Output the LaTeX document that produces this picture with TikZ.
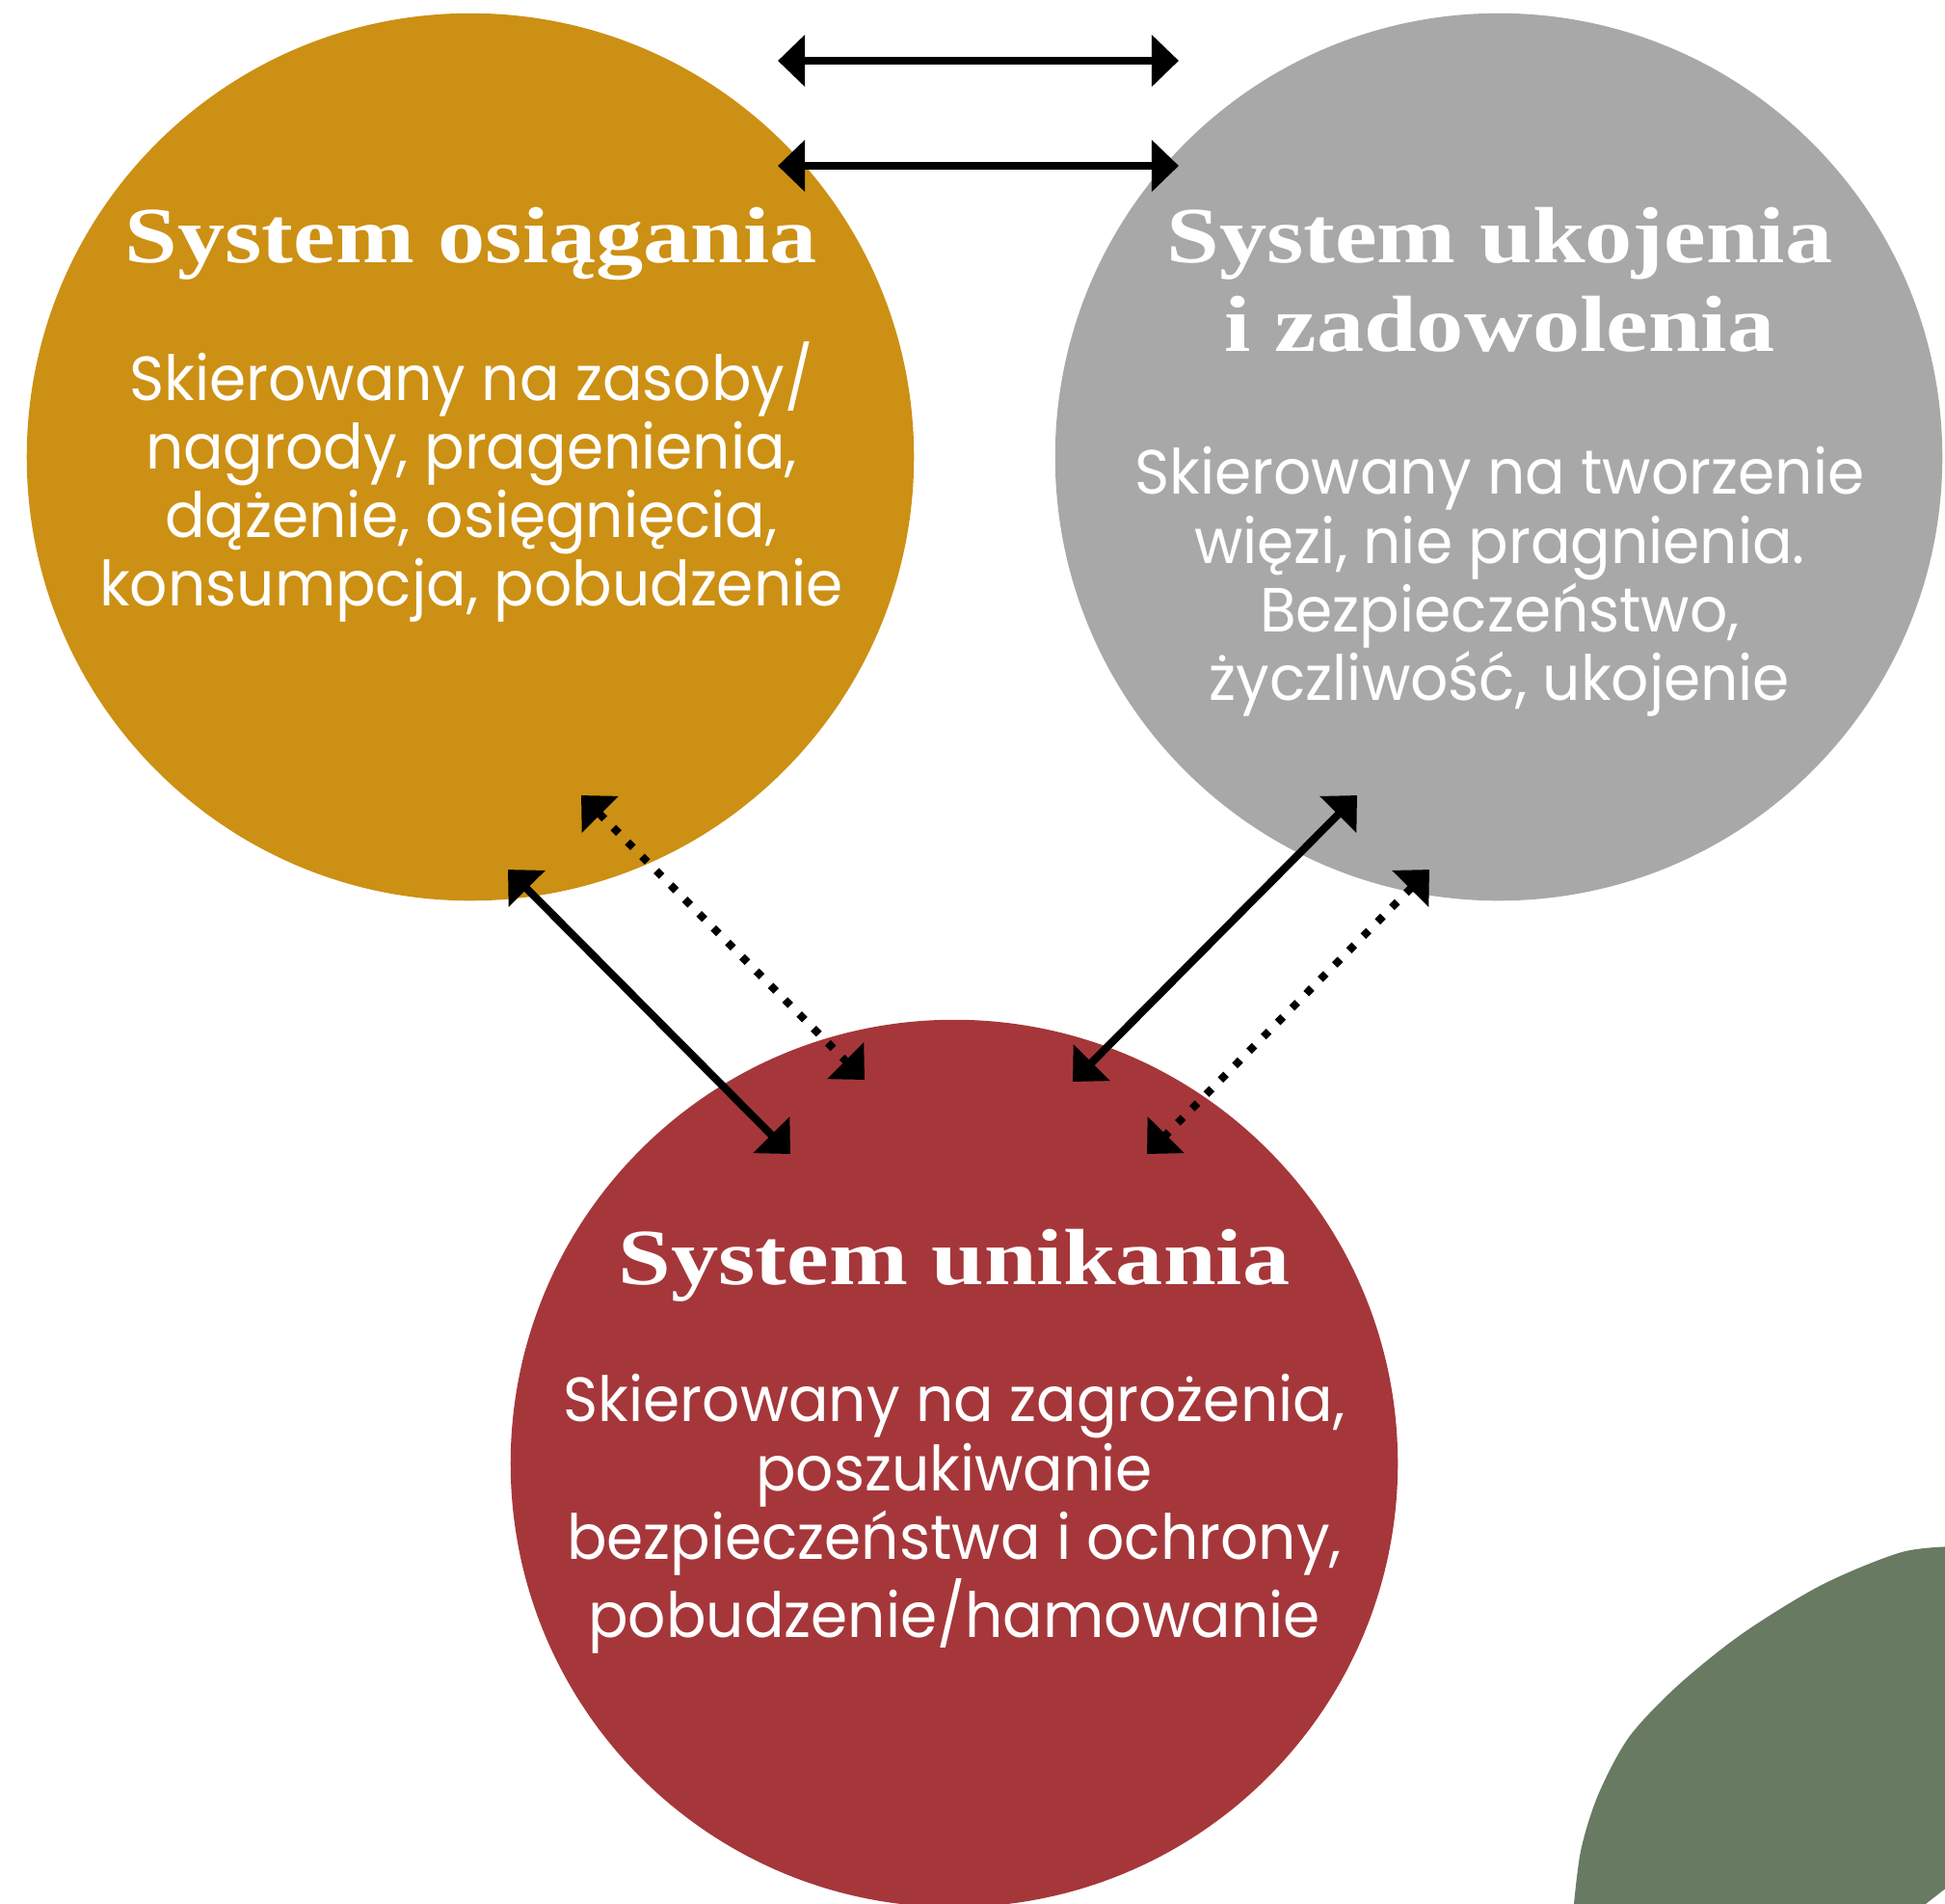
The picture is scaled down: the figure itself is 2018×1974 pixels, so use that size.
\documentclass[tikz,border=0pt]{standalone}
\usepackage{fontspec}
\setmainfont[FakeStretch=0.95]{Poppins}
\newfontfamily\headfont[FakeStretch=1.19]{Liberation Serif}
\usetikzlibrary{arrows.meta}
\definecolor{zloty}{RGB}{204,144,20}
\definecolor{szary}{RGB}{168,168,168}
\definecolor{bordo}{RGB}{165,55,58}
\definecolor{ziel}{RGB}{105,122,98}
\tikzset{
  krag/.style={circle,minimum size=9.2cm,inner sep=0pt},
  tytul/.style={text=white,align=center,inner sep=0pt,anchor=north,
    font=\headfont\bfseries\fontsize{23.5}{26.2}\selectfont},
  opis/.style={text=white,align=center,inner sep=0pt,anchor=north,
    font=\fontsize{18.4}{20.2}\selectfont},
  strz/.style={line width=0.08cm,
    {Triangle[length=0.28cm,width=0.52cm]}-{Triangle[length=0.28cm,width=0.52cm]}},
  kropki/.style={strz,dash pattern=on 0.08cm off 0.13cm}
}
\begin{document}
\begin{tikzpicture}[x=0.01cm,y=-0.01cm]
        \useasboundingbox (0,0) rectangle (2018,1974);

        % plama w rogu
        \fill[ziel] plot[smooth] coordinates {(2030,1604) (1973,1610) (1890,1644) (1807,1695)
          (1740,1749) (1690,1802) (1658,1862) (1640,1920) (1632,1985)}
          -- (1985,1985) -- (2030,1950) -- cycle;

        % trzy systemy
        \node[krag,fill=zloty] (osiag) at (488,474) {};
        \node[krag,fill=szary] (ukoj) at (1555,474) {};
        \node[krag,fill=bordo] (unik) at (990,1518) {};

        \node[tytul] (osiag-tyt) at (489,214) {System osiągania};
        \node[opis] (osiag-opis) at (489,354) {Skierowany na zasoby/\\nagrody, pragenienia,\\dążenie, osięgnięcia,\\konsumpcja, pobudzenie};

        \node[tytul] (ukoj-tyt) at (1556,214) {System ukojenia\\i zadowolenia};
        \node[opis] (ukoj-opis) at (1556,463) {Skierowany na tworzenie\\więzi, nie pragnienia.\\Bezpieczeństwo,\\życzliwość, ukojenie};

        \node[tytul] (unik-tyt) at (990,1274) {System unikania};
        \node[opis] (unik-opis) at (990,1425) {Skierowany na zagrożenia,\\poszukiwanie\\bezpieczeństwa i ochrony,\\pobudzenie/hamowanie};

        % strzalki
        \coordinate (g1) at (807,63);
        \coordinate (h1) at (1223,63);
        \coordinate (g2) at (807,172);
        \coordinate (h2) at (1223,172);
        \coordinate (os1) at (527,902);
        \coordinate (un1) at (820,1197);
        \coordinate (os2) at (603,825);
        \coordinate (un2) at (897,1120);
        \coordinate (uk1) at (1408,825);
        \coordinate (un3) at (1113,1122);
        \coordinate (uk2) at (1483,902);
        \coordinate (un4) at (1190,1197);

        \draw[strz] (g1) -- (h1);
        \draw[strz] (g2) -- (h2);
        \draw[strz] (os1) -- (un1);
        \draw[kropki] (os2) -- (un2);
        \draw[strz] (uk1) -- (un3);
        \draw[kropki] (uk2) -- (un4);
      \end{tikzpicture}
\end{document}
